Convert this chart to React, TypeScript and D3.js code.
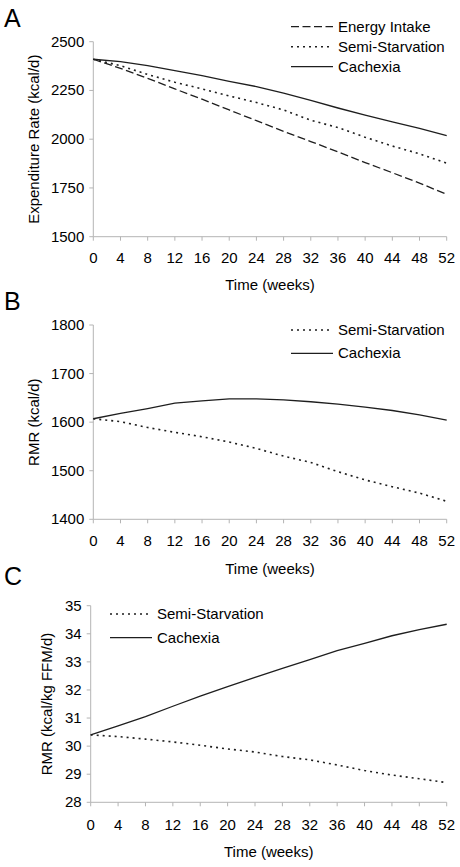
import React from "react";
import * as d3 from "d3";

const weeks = [0, 4, 8, 12, 16, 20, 24, 28, 32, 36, 40, 44, 48, 52];
const xTicks = [0, 4, 8, 12, 16, 20, 24, 28, 32, 36, 40, 44, 48, 52];

// Panel A: Expenditure rate (kcal/d)
const aEnergyIntake = [2410, 2363, 2312, 2258, 2205, 2150, 2095, 2040, 1988, 1935, 1880, 1828, 1775, 1717];
const aSemiStarvation = [2410, 2377, 2332, 2292, 2258, 2222, 2188, 2150, 2097, 2060, 2010, 1965, 1925, 1877];
const aCachexia = [2410, 2398, 2377, 2352, 2326, 2297, 2270, 2236, 2199, 2160, 2124, 2089, 2055, 2018];
const aYTicks = [1500, 1750, 2000, 2250, 2500];

// Panel B: RMR (kcal/d)
const bSemiStarvation = [1607, 1601, 1589, 1579, 1570, 1559, 1546, 1530, 1517, 1498, 1481, 1467, 1454, 1437];
const bCachexia = [1607, 1618, 1628, 1639, 1644, 1648, 1648, 1646, 1642, 1637, 1631, 1624, 1615, 1604];
const bYTicks = [1400, 1500, 1600, 1700, 1800];

// Panel C: RMR (kcal/kg FFM/d)
const cSemiStarvation = [30.4, 30.34, 30.25, 30.15, 30.03, 29.9, 29.79, 29.63, 29.51, 29.33, 29.13, 28.97, 28.84, 28.7];
const cCachexia = [30.4, 30.72, 31.05, 31.42, 31.78, 32.12, 32.45, 32.77, 33.08, 33.4, 33.66, 33.93, 34.15, 34.34];
const cYTicks = [28, 29, 30, 31, 32, 33, 34, 35];

const FONT = "'Liberation Sans', Arial, sans-serif";
const FS = 15;
const INK = "#1e1e1e";
const AXIS = "#b4b4b4";

const DASH: Record<string, string> = {
  energy: "8 3.5",
  semi: "2 4",
  solid: "none",
};

type Series = { name: string; values: number[]; style: string };

type PanelProps = {
  letter: string;
  letterY: number;
  x0: number;
  x1: number;
  y0: number;
  y1: number;
  yDomain: [number, number];
  yTicks: number[];
  yTitle: string;
  yTitleX: number;
  xLabelY: number;
  xTitleY: number;
  series: Series[];
  legendX: number;
  legendY: number[];
};

function Panel(p: PanelProps) {
  const x = d3.scaleLinear().domain([0, 52]).range([p.x0, p.x1]);
  const y = d3.scaleLinear().domain(p.yDomain).range([p.y1, p.y0]);
  const line = d3
    .line<number>()
    .x((_, i) => x(weeks[i]))
    .y((d) => y(d));
  const midY = (p.y0 + p.y1) / 2;
  return (
    <g>
      <text x={4} y={p.letterY} fontSize={25} fontFamily={FONT} fill="#000">
        {p.letter}
      </text>
      <line x1={p.x0} x2={p.x0} y1={p.y0} y2={p.y1} stroke={AXIS} strokeWidth={1} />
      <line x1={p.x0} x2={p.x1} y1={p.y1} y2={p.y1} stroke={AXIS} strokeWidth={1} />
      {p.yTicks.map((t) => (
        <g key={"y" + t}>
          <line x1={p.x0 - 4} x2={p.x0} y1={y(t)} y2={y(t)} stroke={AXIS} />
          <text
            x={p.x0 - 9}
            y={y(t) + 5}
            textAnchor="end"
            fontSize={FS}
            fontFamily={FONT}
            fill="#000"
          >
            {t}
          </text>
        </g>
      ))}
      {xTicks.map((t) => (
        <g key={"x" + t}>
          <line x1={x(t)} x2={x(t)} y1={p.y1} y2={p.y1 + 4} stroke={AXIS} />
          <text
            x={x(t)}
            y={p.xLabelY}
            textAnchor="middle"
            fontSize={FS}
            fontFamily={FONT}
            fill="#000"
          >
            {t}
          </text>
        </g>
      ))}
      <text
        x={(p.x0 + p.x1) / 2}
        y={p.xTitleY}
        textAnchor="middle"
        fontSize={FS}
        fontFamily={FONT}
        fill="#000"
      >
        Time (weeks)
      </text>
      <text
        transform={`translate(${p.yTitleX},${midY}) rotate(-90)`}
        textAnchor="middle"
        fontSize={FS}
        fontFamily={FONT}
        fill="#000"
      >
        {p.yTitle}
      </text>
      {p.series.map((s) => (
        <path
          key={s.name}
          d={line(s.values) || ""}
          fill="none"
          stroke={INK}
          strokeWidth={s.style === "semi" ? 1.6 : 1.3}
          strokeDasharray={DASH[s.style]}
        />
      ))}
      {p.series.map((s, i) => (
        <g key={"lg" + s.name}>
          <line
            x1={p.legendX}
            x2={p.legendX + 42}
            y1={p.legendY[i]}
            y2={p.legendY[i]}
            stroke={INK}
            strokeWidth={s.style === "semi" ? 1.6 : 1.3}
            strokeDasharray={DASH[s.style]}
          />
          <text
            x={p.legendX + 47}
            y={p.legendY[i] + 5}
            fontSize={FS}
            fontFamily={FONT}
            fill="#000"
          >
            {s.name}
          </text>
        </g>
      ))}
    </g>
  );
}

export default function App() {
  return (
    <svg
      width={460}
      height={867}
      style={{ position: "absolute", left: 0, top: 0, background: "#fff" }}
    >
      <rect x={0} y={0} width={460} height={867} fill="#fff" />
      <Panel
        letter="A"
        letterY={27}
        x0={93.3}
        x1={446.7}
        y0={41.7}
        y1={236.7}
        yDomain={[1500, 2500]}
        yTicks={aYTicks}
        yTitle="Expenditure Rate (kcal/d)"
        yTitleX={38.5}
        xLabelY={263}
        xTitleY={289.5}
        series={[
          { name: "Energy Intake", values: aEnergyIntake, style: "energy" },
          { name: "Semi-Starvation", values: aSemiStarvation, style: "semi" },
          { name: "Cachexia", values: aCachexia, style: "solid" },
        ]}
        legendX={291}
        legendY={[26.7, 46.7, 66.7]}
      />
      <Panel
        letter="B"
        letterY={310}
        x0={93.3}
        x1={446.7}
        y0={325}
        y1={519.3}
        yDomain={[1400, 1800]}
        yTicks={bYTicks}
        yTitle="RMR (kcal/d)"
        yTitleX={38.5}
        xLabelY={546}
        xTitleY={573.5}
        series={[
          { name: "Semi-Starvation", values: bSemiStarvation, style: "semi" },
          { name: "Cachexia", values: bCachexia, style: "solid" },
        ]}
        legendX={291}
        legendY={[330, 353.3]}
      />
      <Panel
        letter="C"
        letterY={585}
        x0={90.7}
        x1={446.7}
        y0={605.7}
        y1={802.3}
        yDomain={[28, 35]}
        yTicks={cYTicks}
        yTitle="RMR (kcal/kg FFM/d)"
        yTitleX={52}
        xLabelY={830}
        xTitleY={857}
        series={[
          { name: "Semi-Starvation", values: cSemiStarvation, style: "semi" },
          { name: "Cachexia", values: cCachexia, style: "solid" },
        ]}
        legendX={110}
        legendY={[614, 637.7]}
      />
    </svg>
  );
}
